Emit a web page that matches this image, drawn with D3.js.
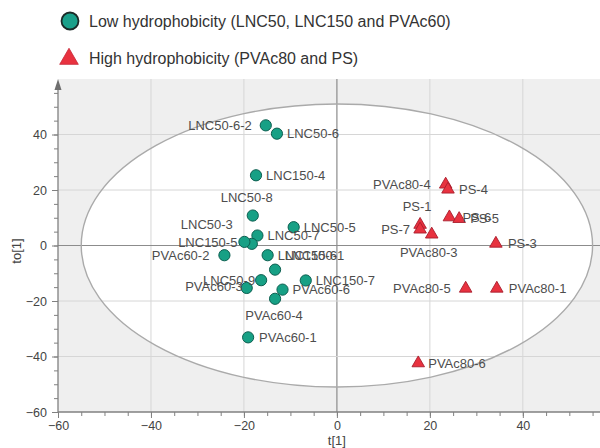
<!DOCTYPE html>
<html>
<head>
<meta charset="utf-8">
<script src="https://cdn.jsdelivr.net/npm/d3@7"></script>
<style>
  html, body { margin: 0; padding: 0; background: #ffffff; }
  svg { display: block; font-family: "Liberation Sans", Arial, sans-serif; }
</style>
</head>
<body>
<svg id="chart" width="600" height="448"></svg>
<script>
// Score plot t[1] vs to[1] (OPLS), grouped by hydrophobicity

// Low hydrophobicity samples (LNC50, LNC150 and PVAc60)
const lowNames = ["LNC50-6-2", "LNC50-6", "LNC150-4", "LNC50-8", "LNC50-5", "LNC50-7",
  "LNC50-3", "LNC150-5", "PVAc60-2", "LNC150-6", "LNC150-1", "LNC50-9", "PVAc60-3",
  "LNC150-7", "PVAc60-6", "PVAc60-4", "PVAc60-1"];
const lowT1 = [-15.3, -12.9, -17.4, -18.1, -9.3, -17.1, -18.3, -19.9, -24.2, -14.9, -13.3,
  -16.3, -19.4, -6.7, -11.7, -13.3, -19.1];
const lowTo1 = [43.3, 40.3, 25.3, 10.8, 6.6, 3.6, 0.6, 1.3, -3.5, -3.5, -8.7,
  -12.5, -15.3, -12.6, -15.9, -19.2, -33.1];

// High hydrophobicity samples (PVAc80 and PS)
const highNames = ["PVAc80-4", "PS-4", "PS-1", "PS-7", "PVAc80-3", "PS-6", "PS-5",
  "PS-3", "PVAc80-5", "PVAc80-1", "PVAc80-6"];
const highT1 = [23.4, 23.9, 17.9, 17.9, 20.4, 24.2, 26.3, 34.2, 27.7, 34.4, 17.5];
const highTo1 = [22.0, 20.2, 7.5, 5.8, 4.0, 10.2, 9.6, 0.7, -15.5, -15.5, -42.4];

const xTicks = [-60, -40, -20, 0, 20, 40];
const yTicks = [-60, -40, -20, 0, 20, 40];
const xMinorStep = 5, yMinorStep = 5;

const legendLabels = ["Low hydrophobicity (LNC50, LNC150 and PVAc60)",
  "High hydrophobicity (PVAc80 and PS)"];
const xTitle = "t[1]", yTitle = "to[1]";

// Hotelling T2 ellipse semi-axes (in score units)
const ellipseA = 55, ellipseB = 51;

// Label placement: text anchor and pixel offsets from the marker
const labelPlacement = {
  "LNC50-6-2": ["end", -14, 0], "LNC50-6": ["start", 10, 0], "LNC150-4": ["start", 10, 0],
  "LNC50-8": ["middle", -6, -18], "LNC50-5": ["start", 10, 0], "LNC50-7": ["start", 10, 0],
  "LNC50-3": ["end", -19, -19], "LNC150-5": ["end", -7, 1], "PVAc60-2": ["end", -15, 0],
  "LNC150-6": ["start", 10, 0], "LNC150-1": ["start", 10, -14], "LNC50-9": ["end", -6, 0],
  "PVAc60-3": ["end", -4, -1], "LNC150-7": ["start", 10, 0], "PVAc60-6": ["start", 10, 0],
  "PVAc60-4": ["middle", -1, 17], "PVAc60-1": ["start", 11, 0],
  "PVAc80-4": ["end", -15, 0], "PS-4": ["start", 11, 0], "PS-1": ["middle", -3, -18],
  "PS-7": ["end", -10, 0], "PVAc80-3": ["middle", -3, 18], "PS-6": ["start", 13, 0],
  "PS-5": ["start", 11, 0], "PS-3": ["start", 12, 0], "PVAc80-5": ["end", -15, 0],
  "PVAc80-1": ["start", 12, 0], "PVAc80-6": ["start", 10, 0]
};

const lowColor = "#17a085", lowStroke = "#0c5f50";
const highColor = "#e8323f", highStroke = "#a81d2c";

const svg = d3.select("#chart");
const plot = { left: 58, right: 600, top: 79, bottom: 412 };

const x = d3.scaleLinear().domain([-60, 56.6]).range([plot.left, plot.right]);
const y = d3.scaleLinear().domain([-60, 60]).range([plot.bottom, plot.top]);

// Plot background (outside the ellipse is shaded)
svg.append("rect")
  .attr("x", plot.left).attr("y", plot.top)
  .attr("width", plot.right - plot.left).attr("height", plot.bottom - plot.top)
  .attr("fill", "#efefef");

svg.append("ellipse")
  .attr("cx", x(0)).attr("cy", y(0))
  .attr("rx", x(ellipseA) - x(0)).attr("ry", y(0) - y(ellipseB))
  .attr("fill", "#ffffff");

// Grid lines
const grid = svg.append("g");
grid.selectAll("line.vx").data(xTicks.filter(d => d > -60))
  .join("line")
  .attr("x1", d => x(d)).attr("x2", d => x(d))
  .attr("y1", plot.top).attr("y2", plot.bottom)
  .attr("stroke", d => d === 0 ? "#8c8c8c" : "#d6d6d6")
  .attr("stroke-width", d => d === 0 ? 1.2 : 1);
grid.selectAll("line.hy").data(yTicks.filter(d => d > -60))
  .join("line")
  .attr("x1", plot.left).attr("x2", plot.right)
  .attr("y1", d => y(d)).attr("y2", d => y(d))
  .attr("stroke", d => d === 0 ? "#8c8c8c" : "#d6d6d6")
  .attr("stroke-width", d => d === 0 ? 1.2 : 1);

// Ellipse outline
svg.append("ellipse")
  .attr("cx", x(0)).attr("cy", y(0))
  .attr("rx", x(ellipseA) - x(0)).attr("ry", y(0) - y(ellipseB))
  .attr("fill", "none").attr("stroke", "#aaaaaa").attr("stroke-width", 1.4);

// Axes
const axisColor = "#808080", tickTextColor = "#444444";
const xMinor = d3.range(-60, 57, xMinorStep);
const yMinor = d3.range(-60, 61, yMinorStep).filter(v => v < 60);

const xAxis = svg.append("g").attr("transform", `translate(0,${plot.bottom})`)
  .call(d3.axisBottom(x).tickValues(xMinor).tickSize(4).tickFormat(""));
const xAxisMajor = svg.append("g").attr("transform", `translate(0,${plot.bottom})`)
  .call(d3.axisBottom(x).tickValues(xTicks).tickSize(6).tickPadding(3).tickFormat(d3.format("d")));
const yAxis = svg.append("g").attr("transform", `translate(${plot.left},0)`)
  .call(d3.axisLeft(y).tickValues(yMinor).tickSize(4).tickFormat(""));
const yAxisMajor = svg.append("g").attr("transform", `translate(${plot.left},0)`)
  .call(d3.axisLeft(y).tickValues(yTicks).tickSize(6).tickPadding(5).tickFormat(d3.format("d")));

[xAxis, xAxisMajor, yAxis, yAxisMajor].forEach(g => {
  g.select(".domain").remove();
  g.selectAll(".tick line").attr("stroke", axisColor);
  g.selectAll("text").attr("fill", tickTextColor)
    .style("font-size", "12.5px").style("font-family", "'Liberation Sans', Arial, sans-serif");
});
xAxisMajor.selectAll("text").attr("dy", "0.71em");

// Axis lines (y axis ends in an arrow head)
svg.append("line")
  .attr("x1", plot.left).attr("x2", plot.right)
  .attr("y1", plot.bottom).attr("y2", plot.bottom)
  .attr("stroke", axisColor).attr("stroke-width", 1.3);
svg.append("line")
  .attr("x1", plot.left).attr("x2", plot.left)
  .attr("y1", plot.bottom).attr("y2", plot.top + 8)
  .attr("stroke", axisColor).attr("stroke-width", 1.3);
svg.append("path")
  .attr("d", `M${plot.left - 3.5},${plot.top + 11} L${plot.left},${plot.top} L${plot.left + 3.5},${plot.top + 11} Z`)
  .attr("fill", "#6f6f6f");

// Axis titles
svg.append("text")
  .attr("x", x(0)).attr("y", 440)
  .attr("text-anchor", "middle").attr("dominant-baseline", "central")
  .attr("fill", tickTextColor).style("font-size", "13px")
  .text(xTitle);
svg.append("text")
  .attr("transform", `translate(16,${y(-2)}) rotate(-90)`)
  .attr("text-anchor", "middle").attr("dominant-baseline", "central")
  .attr("fill", tickTextColor).style("font-size", "13px")
  .text(yTitle);

// Build point records from the arrays
const lowPts = lowNames.map((n, i) => ({ name: n, t: lowT1[i], to: lowTo1[i] }));
const highPts = highNames.map((n, i) => ({ name: n, t: highT1[i], to: highTo1[i] }));

// Markers
svg.append("g").selectAll("circle").data(lowPts).join("circle")
  .attr("cx", d => x(d.t)).attr("cy", d => y(d.to)).attr("r", 5.6)
  .attr("fill", lowColor).attr("stroke", lowStroke).attr("stroke-width", 1);

const tri = d3.symbol().type(d3.symbolTriangle).size(68);
svg.append("g").selectAll("path").data(highPts).join("path")
  .attr("transform", d => `translate(${x(d.t)},${y(d.to)})`)
  .attr("d", tri)
  .attr("fill", highColor).attr("stroke", highStroke).attr("stroke-width", 0.9);

// Point labels
const labelColor = "#4d4d4d";
svg.append("g").selectAll("text").data(lowPts.concat(highPts)).join("text")
  .attr("x", d => x(d.t) + labelPlacement[d.name][1])
  .attr("y", d => y(d.to) + labelPlacement[d.name][2])
  .attr("text-anchor", d => labelPlacement[d.name][0])
  .attr("dominant-baseline", "central")
  .attr("fill", labelColor).style("font-size", "13px")
  .text(d => d.name);

// Legend
const legendRows = [21, 58];
const legend = svg.append("g");
legend.append("circle").attr("cx", 70).attr("cy", legendRows[0]).attr("r", 8.5)
  .attr("fill", "#1aa08a").attr("stroke", "#1b2b28").attr("stroke-width", 1.8);
legend.append("path")
  .attr("transform", `translate(69,${legendRows[1] + 1})`)
  .attr("d", d3.symbol().type(d3.symbolTriangle).size(150))
  .attr("fill", "#e8323f").attr("stroke", "#c8283a").attr("stroke-width", 0.8);
legend.selectAll("text.lg").data(legendLabels).join("text")
  .attr("x", 89).attr("y", (d, i) => legendRows[i])
  .attr("dominant-baseline", "central")
  .attr("fill", "#333333").style("font-size", "16px")
  .text(d => d);
</script>
</body>
</html>
